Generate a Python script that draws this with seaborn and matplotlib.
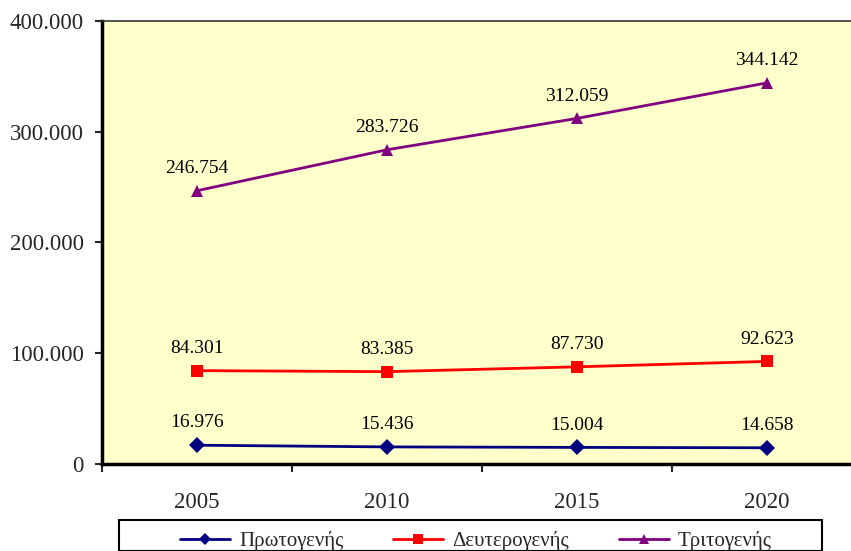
import numpy as np
import pandas as pd
import matplotlib
matplotlib.use("Agg")
import matplotlib.pyplot as plt
from matplotlib.patches import Rectangle
import seaborn as sns

# Data
years = ["2005", "2010", "2015", "2020"]
primary = [16976, 15436, 15004, 14658]
secondary = [84301, 83385, 87730, 92623]
tertiary = [246754, 283726, 312059, 344142]
series_names = ["Πρωτογενής", "Δευτερογενής", "Τριτογενής"]
y_ticks = [0, 100000, 200000, 300000, 400000]

colors = {"Πρωτογενής": "#000080", "Δευτερογενής": "#FF0000", "Τριτογενής": "#800080"}
markers = {"Πρωτογενής": "D", "Δευτερογενής": "s", "Τριτογενής": "^"}


def gr_fmt(v):
    return f"{int(v):,}".replace(",", ".")


df = pd.DataFrame({
    "year": years * 3,
    "value": primary + secondary + tertiary,
    "series": [s for s in series_names for _ in years],
})

sns.set_style("white")
plt.rcParams["font.family"] = ["Liberation Serif", "DejaVu Serif"]

fig = plt.figure(figsize=(8.51, 5.51), dpi=100)
W, H = 851, 551
ax = fig.add_axes([102 / W, (H - 464) / H, (862 - 102) / W, (464 - 21) / H])
ax.set_facecolor("#FFFFCC")

sns.lineplot(data=df, x="year", y="value", hue="series", style="series",
             palette=colors, markers=markers, dashes=False, markersize=8,
             linewidth=2, ax=ax, legend=False, sort=False)

for line in ax.lines:
    line.set_markeredgewidth(0)

# data labels
for name, vals in zip(series_names, [primary, secondary, tertiary]):
    for i, v in enumerate(vals):
        ax.annotate(gr_fmt(v), (i, v), xytext=(0, 16), textcoords="offset points",
                    ha="center", va="center", fontsize=14, color="black")

ax.set_xlim(-0.5, 3.5)
ax.set_ylim(0, 400000)
ax.set_yticks(y_ticks)
ax.set_yticklabels([gr_fmt(v) for v in y_ticks], fontsize=16.5)
ax.set_xticks(np.arange(len(years) + 1) - 0.5)
ax.set_xticklabels([])
ax.set_xticks(np.arange(len(years)), minor=True)
ax.set_xticklabels(years, minor=True, fontsize=16.5)
ax.tick_params(axis="x", which="minor", length=0, pad=20)
ax.tick_params(axis="x", which="major", length=6, width=1.5, direction="out", bottom=True)
ax.tick_params(axis="y", length=5, width=1.5, direction="out", pad=8, left=True)
ax.set_xlabel("")
ax.set_ylabel("")

for side in ["left", "bottom"]:
    ax.spines[side].set_linewidth(2.5)
    ax.spines[side].set_color("black")
ax.spines["top"].set_linewidth(1.2)
ax.spines["top"].set_color("#333333")
ax.spines["right"].set_visible(False)

# legend
handles = [plt.Line2D([], [], color=colors[n], marker=markers[n], markersize=6.5,
                      markeredgewidth=0, linewidth=2) for n in series_names]
fig.legend(handles, series_names, loc="center left", ncol=3, frameon=False,
           bbox_to_anchor=(180 / W, 1 - 541 / H), borderaxespad=0, borderpad=0,
           fontsize=15, handlelength=2.4, handletextpad=0.43, columnspacing=2.4)
fig.patches.append(Rectangle((119 / W, 0), (822 - 119) / W, 1 - 520 / H,
                             transform=fig.transFigure, fill=False,
                             edgecolor="black", linewidth=1.5))

fig.savefig("out.png", dpi=100)
